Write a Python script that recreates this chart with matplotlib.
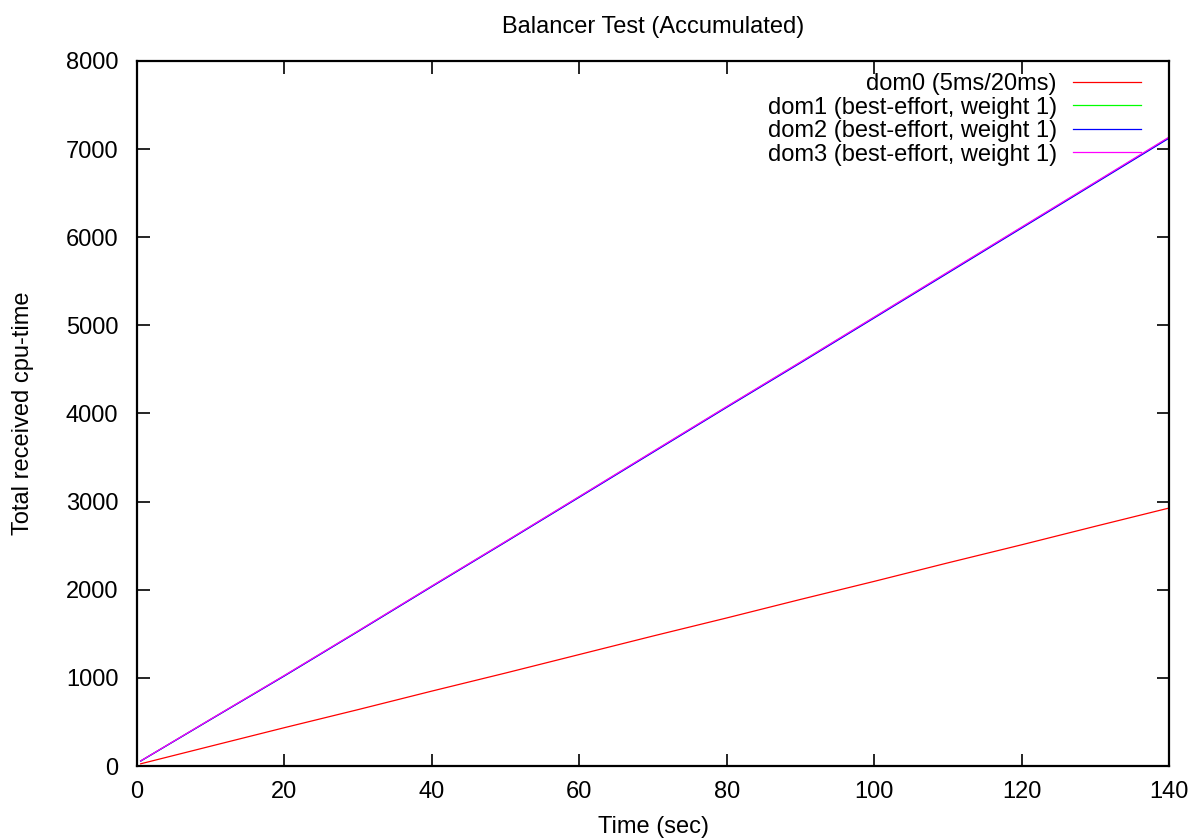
import matplotlib
matplotlib.use("Agg")
from matplotlib import pyplot as plt

plt.rcParams['font.family'] = ['Liberation Sans', 'DejaVu Sans']

# accumulated cpu-time samples (sec -> ms)
time_sec = [0.5, 10, 20, 30, 40, 50, 60, 70, 80, 90, 100, 110, 120, 130, 140]
dom0 = [25, 225, 435, 640, 850, 1055, 1265, 1475, 1680, 1890, 2095, 2305, 2510, 2720, 2927]
dom1 = [57, 530, 1025, 1530, 2040, 2545, 3055, 3565, 4075, 4580, 5090, 5600, 6110, 6620, 7130]
dom2 = [56, 528, 1022, 1527, 2036, 2541, 3050, 3560, 4070, 4574, 5084, 5594, 6104, 6614, 7124]
dom3 = [58, 532, 1028, 1533, 2043, 2548, 3058, 3569, 4079, 4584, 5094, 5605, 6115, 6625, 7136]

labels = ["dom0 (5ms/20ms)", "dom1 (best-effort, weight 1)",
          "dom2 (best-effort, weight 1)", "dom3 (best-effort, weight 1)"]
colors = ['#ff0000', '#00ff00', '#0000ff', '#ff00ff']

W, H = 1197, 838
fs = 17
fig = plt.figure(figsize=(W / 100, H / 100), dpi=100)
ax = fig.add_axes([137 / W, 1 - 766 / H, (1169 - 137) / W, (766 - 61) / H])

for series, lab, col in zip([dom0, dom1, dom2, dom3], labels, colors):
    ax.plot(time_sec, series, color=col, lw=0.9, label=lab)

ax.set_xlim(0, 140)
ax.set_ylim(0, 8000)
ax.set_xticks(range(0, 141, 20))
ax.set_yticks(range(0, 8001, 1000))
ax.tick_params(direction='in', length=9, width=1.2, top=True, right=True,
               labelsize=fs)
ax.tick_params(axis='x', pad=11)
ax.tick_params(axis='y', pad=13.5)
for s in ax.spines.values():
    s.set_linewidth(1.6)

ax.set_title("Balancer Test (Accumulated)", fontsize=fs, pad=19.8)
ax.set_xlabel("Time (sec)", fontsize=fs, labelpad=8.8)
ax.set_ylabel("Total received cpu-time", fontsize=fs, labelpad=22.5)

ax.legend(loc='upper right', frameon=False, markerfirst=False, fontsize=fs,
          handlelength=2.85, handletextpad=0.7, labelspacing=0.06,
          borderaxespad=0.15, bbox_to_anchor=(0.985, 1.001))

fig.savefig("out.png", dpi=100)
